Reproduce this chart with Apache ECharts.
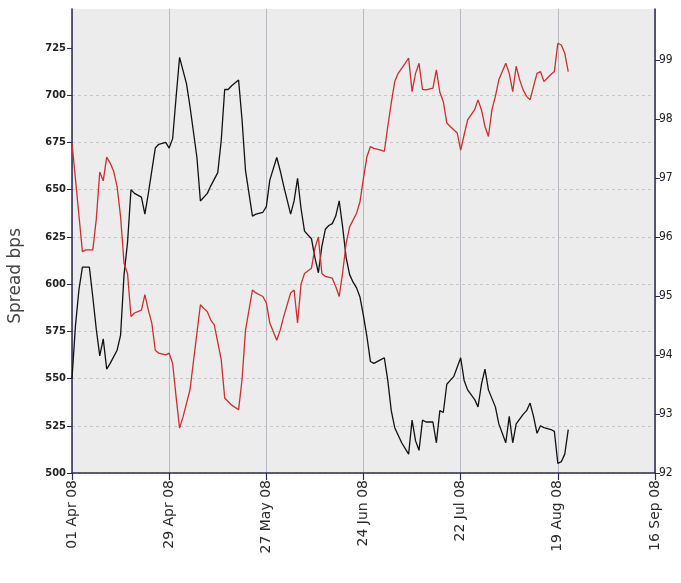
<!DOCTYPE html>
<html>
<head>
<meta charset="utf-8">
<script src="https://cdn.jsdelivr.net/npm/echarts@6/dist/echarts.min.js"></script>
<style>
html,body{margin:0;padding:0;background:#fff;}
#chart{width:681px;height:583px;}
</style>
</head>
<body>
<div id="chart"></div>
<script>
// ---- data ----
const startDate = '2008-04-01';
const endDate = '2008-09-16';
const monthNames = ['Jan','Feb','Mar','Apr','May','Jun','Jul','Aug','Sep','Oct','Nov','Dec'];

// Spread (left axis, bps) - black line
const spreadDates = ['2008-04-01','2008-04-02','2008-04-03','2008-04-04','2008-04-06','2008-04-07','2008-04-08','2008-04-09','2008-04-10','2008-04-11','2008-04-12','2008-04-14','2008-04-15','2008-04-16','2008-04-17','2008-04-18','2008-04-19','2008-04-21','2008-04-22','2008-04-23','2008-04-25','2008-04-26','2008-04-28','2008-04-29','2008-04-30','2008-05-01','2008-05-02','2008-05-03','2008-05-04','2008-05-05','2008-05-07','2008-05-08','2008-05-10','2008-05-11','2008-05-13','2008-05-14','2008-05-15','2008-05-16','2008-05-17','2008-05-19','2008-05-20','2008-05-21','2008-05-23','2008-05-24','2008-05-26','2008-05-27','2008-05-28','2008-05-30','2008-05-31','2008-06-01','2008-06-03','2008-06-04','2008-06-05','2008-06-06','2008-06-07','2008-06-08','2008-06-09','2008-06-10','2008-06-11','2008-06-12','2008-06-13','2008-06-14','2008-06-15','2008-06-16','2008-06-17','2008-06-18','2008-06-19','2008-06-20','2008-06-21','2008-06-22','2008-06-23','2008-06-24','2008-06-25','2008-06-26','2008-06-27','2008-06-29','2008-06-30','2008-07-01','2008-07-02','2008-07-03','2008-07-04','2008-07-05','2008-07-07','2008-07-08','2008-07-09','2008-07-10','2008-07-11','2008-07-12','2008-07-14','2008-07-15','2008-07-16','2008-07-17','2008-07-18','2008-07-19','2008-07-20','2008-07-21','2008-07-22','2008-07-23','2008-07-24','2008-07-26','2008-07-27','2008-07-28','2008-07-29','2008-07-30','2008-08-01','2008-08-02','2008-08-04','2008-08-05','2008-08-06','2008-08-07','2008-08-09','2008-08-10','2008-08-11','2008-08-12','2008-08-13','2008-08-14','2008-08-15','2008-08-17','2008-08-18','2008-08-19','2008-08-20','2008-08-21','2008-08-22'];
const spreadValues = [550,578,597,609,609,593,576,562,571,555,558,565,573,605,622,650,648,646,637,648,672,674,675,672,677,699,720,713,706,694,667,644,648,652,659,676,703,703,705,708,687,660,636,637,638,641,655,667,660,652,637,644,656,640,628,626,624,614,606,620,629,631,632,636,644,630,614,605,601,598,593,583,572,559,558,560,561,549,533,524,520,516,510,528,517,512,528,527,527,516,533,532,547,549,551,556,561,549,544,539,535,547,555,544,535,526,516,530,516,526,531,533,537,530,521,525,524,523,522,505,506,510,523];

// Price (right axis) - red line
const priceDates = ['2008-04-01','2008-04-04','2008-04-05','2008-04-07','2008-04-08','2008-04-09','2008-04-10','2008-04-11','2008-04-12','2008-04-13','2008-04-14','2008-04-15','2008-04-16','2008-04-17','2008-04-18','2008-04-19','2008-04-21','2008-04-22','2008-04-23','2008-04-24','2008-04-25','2008-04-26','2008-04-28','2008-04-29','2008-04-30','2008-05-01','2008-05-02','2008-05-03','2008-05-04','2008-05-05','2008-05-07','2008-05-08','2008-05-10','2008-05-11','2008-05-12','2008-05-14','2008-05-15','2008-05-16','2008-05-17','2008-05-19','2008-05-20','2008-05-21','2008-05-23','2008-05-24','2008-05-26','2008-05-27','2008-05-28','2008-05-30','2008-05-31','2008-06-01','2008-06-03','2008-06-04','2008-06-05','2008-06-06','2008-06-07','2008-06-09','2008-06-10','2008-06-11','2008-06-12','2008-06-13','2008-06-15','2008-06-16','2008-06-17','2008-06-18','2008-06-19','2008-06-20','2008-06-22','2008-06-23','2008-06-24','2008-06-25','2008-06-26','2008-06-27','2008-06-29','2008-06-30','2008-07-01','2008-07-02','2008-07-03','2008-07-04','2008-07-06','2008-07-07','2008-07-08','2008-07-09','2008-07-10','2008-07-11','2008-07-12','2008-07-14','2008-07-15','2008-07-16','2008-07-17','2008-07-18','2008-07-19','2008-07-21','2008-07-22','2008-07-23','2008-07-24','2008-07-26','2008-07-27','2008-07-28','2008-07-29','2008-07-30','2008-07-31','2008-08-01','2008-08-02','2008-08-04','2008-08-05','2008-08-06','2008-08-07','2008-08-08','2008-08-09','2008-08-10','2008-08-11','2008-08-12','2008-08-13','2008-08-14','2008-08-15','2008-08-16','2008-08-17','2008-08-18','2008-08-19','2008-08-20','2008-08-21','2008-08-22'];
const priceValues = [97.59,95.75,95.78,95.78,96.3,97.1,96.95,97.35,97.25,97.11,96.85,96.34,95.55,95.38,94.65,94.71,94.76,95.02,94.76,94.54,94.08,94.03,94.0,94.03,93.86,93.29,92.76,92.95,93.18,93.41,94.37,94.85,94.73,94.59,94.51,93.92,93.27,93.21,93.15,93.07,93.58,94.42,95.1,95.05,94.99,94.88,94.54,94.25,94.42,94.65,95.05,95.1,94.54,95.2,95.38,95.47,95.81,96.0,95.38,95.33,95.3,95.16,94.99,95.4,95.89,96.17,96.4,96.6,97.0,97.36,97.53,97.5,97.47,97.45,97.87,98.27,98.63,98.77,98.94,99.03,98.46,98.77,98.94,98.5,98.49,98.52,98.83,98.45,98.29,97.93,97.87,97.76,97.47,97.73,97.98,98.15,98.32,98.15,97.87,97.7,98.15,98.38,98.66,98.94,98.77,98.46,98.89,98.66,98.49,98.38,98.32,98.55,98.77,98.8,98.63,98.69,98.75,98.8,99.28,99.25,99.11,98.8];

// Axis ticks
const spreadTicks = [500,525,550,575,600,625,650,675,700,725];
const priceTicks = [92,93,94,95,96,97,98,99];
const tickStepDays = 28;

// ---- helpers ----
function toUTC(s){ const p = s.split('-').map(Number); return Date.UTC(p[0], p[1]-1, p[2]); }
const base = toUTC(startDate);
const DAY = 86400000;
function dayOf(s){ return Math.round((toUTC(s) - base) / DAY); }
function fmtDay(d){
  const dt = new Date(base + d * DAY);
  const dd = String(dt.getUTCDate()).padStart(2,'0');
  const yy = String(dt.getUTCFullYear()).slice(2);
  return dd + ' ' + monthNames[dt.getUTCMonth()] + ' ' + yy;
}
const spreadData = spreadDates.map((d,i)=>[dayOf(d), spreadValues[i]]);
const priceData = priceDates.map((d,i)=>[dayOf(d), priceValues[i]]);
const lastDay = dayOf(endDate);

const axisColor = '#2b2b55';
const chart = echarts.init(document.getElementById('chart'), null, {renderer:'canvas'});
chart.setOption({
  animation: false,
  backgroundColor: '#ffffff',
  grid: { left: 72, right: 26, top: 9, bottom: 110, show: true, backgroundColor: '#ececec', borderWidth: 0 },
  xAxis: {
    type: 'value', min: 0, max: lastDay, interval: tickStepDays,
    axisLine: { show: true, lineStyle: { color: axisColor, width: 1.5 } },
    axisTick: { show: true, length: 7, lineStyle: { color: axisColor, width: 1.2 } },
    axisLabel: { rotate: 90, formatter: v => fmtDay(v), color: '#2a2a2a', fontSize: 14, fontFamily: 'DejaVu Sans', margin: 7 },
    splitLine: { show: true, lineStyle: { color: '#b9b9c2', width: 1, type: 'solid' } }
  },
  yAxis: [
    {
      type: 'value', position: 'left', min: 500, max: 745.6, interval: 25,
      axisLine: { show: true, onZero: false, lineStyle: { color: axisColor, width: 1.5 } },
      axisTick: { show: true, length: 5, customValues: spreadTicks, lineStyle: { color: axisColor } },
      axisLabel: { customValues: spreadTicks, color: '#222', fontSize: 11, fontWeight: 'bold', fontFamily: 'DejaVu Sans Condensed, Liberation Sans Narrow, DejaVu Sans', margin: 6 },
      splitLine: { show: true, showMaxLine: false, lineStyle: { color: '#c6c6c6', width: 1, type: [3,3] } }
    },
    {
      type: 'value', position: 'right', min: 92, max: 99.86, interval: 1,
      axisLine: { show: true, onZero: false, lineStyle: { color: axisColor, width: 1.5 } },
      axisTick: { show: true, length: 5, customValues: priceTicks, lineStyle: { color: axisColor } },
      axisLabel: { customValues: priceTicks, color: '#222', fontSize: 12, fontFamily: 'DejaVu Sans Condensed, Liberation Sans Narrow, DejaVu Sans', margin: 4 },
      splitLine: { show: false }
    }
  ],
  graphic: [{
    type: 'text', left: 7, top: 228, rotation: Math.PI/2,
    style: { text: 'Spread bps', fill: '#444', font: '17px "DejaVu Sans"' }
  }],
  series: [
    { name: 'Spread', type: 'line', yAxisIndex: 0, data: spreadData, showSymbol: false, symbol: 'none',
      lineStyle: { color: '#111', width: 1.3 } },
    { name: 'Price', type: 'line', yAxisIndex: 1, data: priceData, showSymbol: false, symbol: 'none',
      lineStyle: { color: '#cc2e2e', width: 1.3 } }
  ]
});
</script>
</body>
</html>
